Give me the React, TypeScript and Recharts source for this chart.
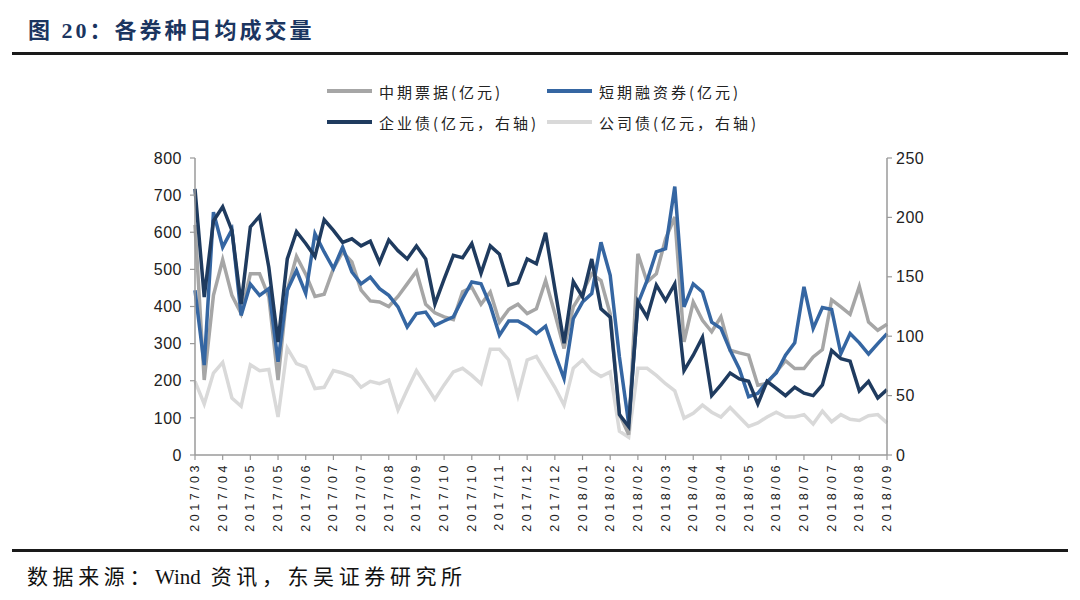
import { LineChart, Line, XAxis, YAxis } from "recharts";

// x-axis labels, one every 3 weekly points
const tickLabels = [
  "2017/03","2017/04","2017/05","2017/05","2017/06","2017/07","2017/07","2017/08","2017/09",
  "2017/10","2017/10","2017/11","2017/12","2017/12","2018/01","2018/02","2018/02","2018/03",
  "2018/04","2018/04","2018/05","2018/06","2018/07","2018/07","2018/08","2018/09",
];

// 中期票据 (亿元, left axis)
const mtn = [
  620,202,430,526,430,381,488,488,426,202,444,535,487,427,433,502,547,520,444,415,
  412,400,427,461,495,406,383,372,365,440,452,406,439,358,392,406,381,394,470,381,
  287,399,439,488,470,380,110,55,542,466,488,582,641,305,412,363,332,372,282,275,
  269,188,193,224,254,233,233,264,284,418,399,379,454,358,336,352,
];

// 短期融资券 (亿元, left axis)
const cp = [
  444,242,654,560,607,376,460,430,448,251,444,497,435,596,547,502,560,493,461,479,
  448,430,399,345,381,385,349,361,372,421,466,461,403,323,361,361,347,327,347,273,
  206,367,412,435,573,484,264,85,408,470,547,556,723,399,461,439,358,341,282,232,
  157,166,197,221,269,302,453,341,397,392,273,327,302,272,300,327,
];

// 企业债 (亿元, right axis)
const ent = [
  224,133,197,209,189,127,192,201,158,95,165,188,178,167,198,189,179,182,176,180,
  162,181,172,165,176,165,127,148,168,166,178,153,176,169,143,145,165,161,187,140,
  94,146,133,165,123,116,34,24,129,116,143,130,144,71,84,99,50,59,69,64,
  62,43,62,56,50,57,52,50,59,88,81,79,54,62,48,55,
];

// 公司债 (亿元, right axis)
const corp = [
  62,43,69,78,48,41,76,71,72,32,90,77,74,56,57,71,69,66,57,62,
  60,63,38,55,71,59,47,59,70,73,67,60,89,89,80,50,80,83,70,57,
  42,73,80,71,66,70,20,15,73,73,67,60,54,31,35,42,36,32,40,32,
  24,27,32,36,32,32,34,26,37,28,34,30,29,33,34,27,
];

const leftTicks = [0, 100, 200, 300, 400, 500, 600, 700, 800];
const rightTicks = [0, 50, 100, 150, 200, 250];

const data = mtn.map((v, i) => ({ idx: i, mtn: v, cp: cp[i], ent: ent[i], corp: corp[i] }));
const xTicks = tickLabels.map((_, k) => k * 3);

const C_MTN = "#A6A6A6";
const C_CP = "#3566A2";
const C_ENT = "#1F3B5F";
const C_CORP = "#D9D9D9";
const AXIS = "#9A9A9A";
const NUM_FONT = "'Liberation Sans', Arial, sans-serif";
const CJK_FONT = "'Liberation Serif', 'Noto Sans CJK SC', serif";

const legendItems = [
  { label: "中期票据(亿元)", color: C_MTN, x: 327, y: 91 },
  { label: "短期融资券(亿元)", color: C_CP, x: 547, y: 91 },
  { label: "企业债(亿元，右轴)", color: C_ENT, x: 327, y: 122 },
  { label: "公司债(亿元，右轴)", color: C_CORP, x: 547, y: 122 },
];

const XTick = ({ x, y, payload }: any) => (
  <text
    transform={`translate(${x},${y}) rotate(-90)`}
    textAnchor="end"
    dominantBaseline="central"
    style={{ fontFamily: NUM_FONT, fontSize: 12.5, letterSpacing: 3.5, fill: "#222" }}
  >
    {tickLabels[Math.round(payload.value / 3)]}
  </text>
);

export default function App() {
  return (
    <div style={{ position: "absolute", left: 0, top: 0, width: 1080, height: 600, background: "#fff" }}>
      <div style={{
        position: "absolute", left: 28, top: 12, fontFamily: CJK_FONT, fontWeight: 700,
        fontSize: 22, letterSpacing: 3, color: "#1B3560", whiteSpace: "nowrap",
      }}>
        图 20：各券种日均成交量
      </div>
      <div style={{ position: "absolute", left: 12, top: 52, width: 1056, height: 2.5, background: "#1a1a1a" }} />

      {legendItems.map((it) => (
        <div key={it.label} style={{ position: "absolute", left: it.x, top: it.y - 11, height: 22, display: "flex", alignItems: "center" }}>
          <div style={{ width: 45, height: 4, background: it.color, marginRight: 7 }} />
          <span style={{ fontFamily: "'Noto Sans CJK SC', sans-serif", fontSize: 15, letterSpacing: 3, color: "#222", whiteSpace: "nowrap" }}>
            {it.label}
          </span>
        </div>
      ))}

      <div style={{ position: "absolute", left: 0, top: 0 }}>
        <LineChart width={1080} height={600} data={data} margin={{ top: 158, right: 133, bottom: 55, left: 0 }}>
          <XAxis
            dataKey="idx" type="number" domain={[0, 75]} ticks={xTicks} interval={0}
            height={90} tickSize={5} tickMargin={2}
            axisLine={{ stroke: AXIS, strokeWidth: 1.5 }} tickLine={{ stroke: AXIS, strokeWidth: 1.2 }}
            tick={<XTick />}
          />
          <YAxis
            yAxisId="left" width={195} domain={[0, 800]} ticks={leftTicks} interval={0}
            tickSize={5} tickMargin={8}
            axisLine={{ stroke: AXIS, strokeWidth: 1.5 }} tickLine={{ stroke: AXIS, strokeWidth: 1.2 }}
            tick={{ fontFamily: NUM_FONT, fontSize: 16, letterSpacing: 0.5, fill: "#222" }}
          />
          <YAxis
            yAxisId="right" orientation="right" width={60} domain={[0, 250]} ticks={rightTicks} interval={0}
            tickSize={5} tickMargin={4}
            axisLine={{ stroke: AXIS, strokeWidth: 1.5 }} tickLine={{ stroke: AXIS, strokeWidth: 1.2 }}
            tick={{ fontFamily: NUM_FONT, fontSize: 16, letterSpacing: 0.5, fill: "#222" }}
          />
          <Line yAxisId="right" dataKey="corp" stroke={C_CORP} strokeWidth={3.5} dot={false} activeDot={false} isAnimationActive={false} strokeLinejoin="miter" />
          <Line yAxisId="left" dataKey="mtn" stroke={C_MTN} strokeWidth={3.5} dot={false} activeDot={false} isAnimationActive={false} strokeLinejoin="miter" />
          <Line yAxisId="left" dataKey="cp" stroke={C_CP} strokeWidth={3.5} dot={false} activeDot={false} isAnimationActive={false} strokeLinejoin="miter" />
          <Line yAxisId="right" dataKey="ent" stroke={C_ENT} strokeWidth={3.5} dot={false} activeDot={false} isAnimationActive={false} strokeLinejoin="miter" />
        </LineChart>
      </div>

      <div style={{ position: "absolute", left: 12, top: 549, width: 1056, height: 3, background: "#1a1a1a" }} />
      <div style={{
        position: "absolute", left: 27, top: 560, fontFamily: CJK_FONT, fontSize: 21,
        letterSpacing: 4.6, color: "#111", whiteSpace: "nowrap",
      }}>
        数据来源：<span style={{ letterSpacing: 0 }}>Wind</span> 资讯，东吴证券研究所
      </div>
    </div>
  );
}
